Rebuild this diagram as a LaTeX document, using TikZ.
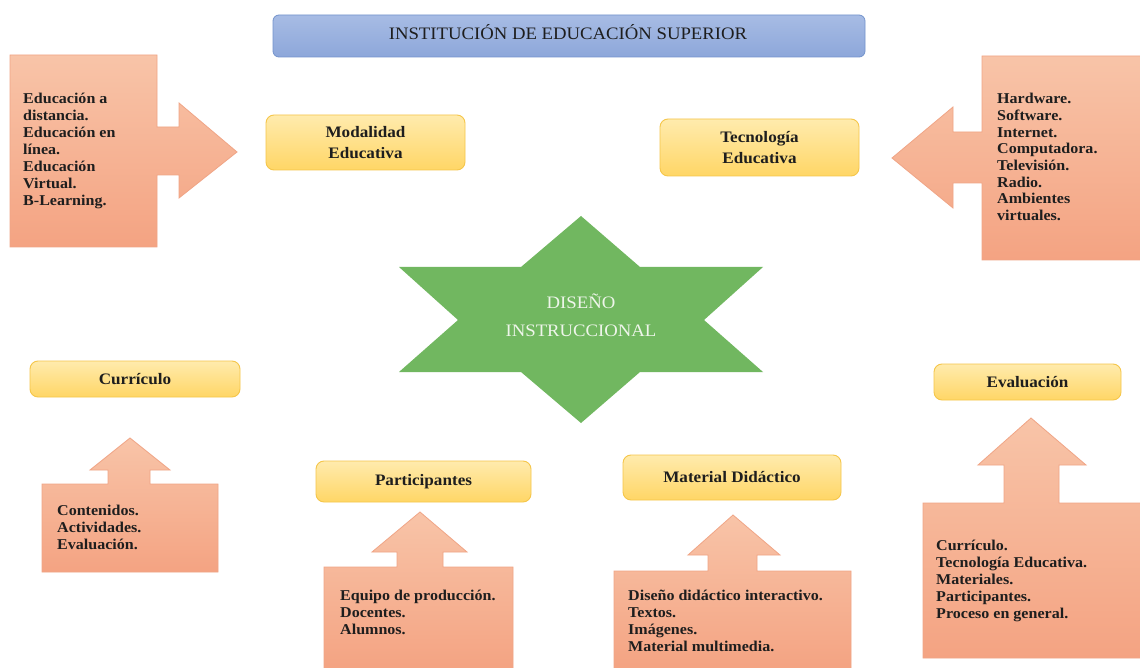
\documentclass[tikz,border=0pt]{standalone}
\usepackage{fontspec}
\setmainfont{Liberation Serif}[FakeStretch=1.07]
\definecolor{calloutTop}{HTML}{F8C4A8}
\definecolor{calloutBot}{HTML}{F4A382}
\definecolor{calloutLine}{HTML}{F0A586}
\definecolor{labTop}{HTML}{FFEBAD}
\definecolor{labBot}{HTML}{FFD666}
\definecolor{labLine}{HTML}{F5C64A}
\definecolor{titTop}{HTML}{A7BCE4}
\definecolor{titBot}{HTML}{8DA7DA}
\definecolor{titLine}{HTML}{7393CC}
\definecolor{starGreen}{HTML}{71B760}
\definecolor{starText}{HTML}{EEF5EA}
\definecolor{ink}{HTML}{1E1E1E}
\tikzset{
  callout/.style={top color=calloutTop, bottom color=calloutBot, draw=calloutLine, line width=0.8pt},
  labelbox/.style={rectangle, rounded corners=8pt, top color=labTop, bottom color=labBot, draw=labLine, line width=0.9pt, font=\bfseries\fontsize{16}{21}\selectfont, text=ink, align=center, inner sep=0pt},
  bodytext/.style={anchor=north west, align=left, inner sep=0pt, font=\bfseries\fontsize{15}{17}\selectfont, text=ink},
}
\begin{document}
\begin{tikzpicture}[x=1pt,y=-1pt]
\useasboundingbox (0,0) rectangle (1140,668);
\fill[white] (0,0) rectangle (1140,668);

% title
\node[rectangle, rounded corners=6pt, top color=titTop, bottom color=titBot, draw=titLine, line width=0.8pt,
      minimum width=592pt, minimum height=42pt] (title) at (569,36) {};
\node[font=\fontsize{17.5}{20}\selectfont, text=ink, inner sep=0pt] (titletext) at (568,32) {INSTITUCIÓN DE EDUCACIÓN SUPERIOR};

% left callout (arrow right)
\shade[callout] (10,55) -- (157,55) -- (157,127) -- (179,127) -- (179,103) -- (237,152)
   -- (179,198) -- (179,175) -- (157,175) -- (157,247) -- (10,247) -- cycle;
\node[bodytext] (modtxt) at (23,93) {Educación a\\distancia.\\Educación en\\línea.\\Educación\\Virtual.\\B-Learning.};

% right callout (arrow left)
\shade[callout] (1141,56) -- (982,56) -- (982,132) -- (953,132) -- (953,107) -- (892,158)
   -- (953,208) -- (953,183) -- (982,183) -- (982,260) -- (1141,260) -- cycle;
\node[bodytext, font=\bfseries\fontsize{15}{16.7}\selectfont] (tectxt) at (997,93) {Hardware.\\Software.\\Internet.\\Computadora.\\Televisión.\\Radio.\\Ambientes\\virtuales.};

% labels
\node[labelbox, minimum width=199pt, minimum height=55pt] (mod) at (365.5,142.5) {Modalidad\\Educativa};
\node[labelbox, minimum width=199pt, minimum height=57pt] (tec) at (759.5,147.5) {Tecnología\\Educativa};
\node[labelbox, minimum width=210pt, minimum height=36pt] (cur) at (135,379) {Currículo};
\node[labelbox, minimum width=215pt, minimum height=41pt] (par) at (423.5,481.5) {Participantes};
\node[labelbox, minimum width=218pt, minimum height=45pt] (mat) at (732,477.5) {Material Didáctico};
\node[labelbox, minimum width=187pt, minimum height=36pt] (eva) at (1027.5,382) {Evaluación};

% star
\fill[starGreen] (581,216) -- (640,267) -- (763,267) -- (704,320) -- (763,372) -- (640,372)
   -- (581,423) -- (521,372) -- (399,372) -- (458,320) -- (399,267) -- (521,267) -- cycle;
\node[font=\fontsize{17.5}{28}\selectfont, text=starText, align=center, inner sep=0pt] (star) at (581,315) {DISEÑO\\INSTRUCCIONAL};

% curriculo callout
\shade[callout] (42,484) -- (108,484) -- (108,470) -- (90,470) -- (130,438) -- (170,470)
   -- (150,470) -- (150,484) -- (218,484) -- (218,572) -- (42,572) -- cycle;
\node[bodytext] (curtxt) at (57,505) {Contenidos.\\Actividades.\\Evaluación.};

% participantes callout
\shade[callout] (324,567) -- (397,567) -- (397,552) -- (372,552) -- (420,512) -- (467,552)
   -- (443,552) -- (443,567) -- (513,567) -- (513,670) -- (324,670) -- cycle;
\node[bodytext] (partxt) at (340,590) {Equipo de producción.\\Docentes.\\Alumnos.};

% material callout
\shade[callout] (614,571) -- (708,571) -- (708,555) -- (688,555) -- (733,515) -- (780,555)
   -- (757,555) -- (757,571) -- (851,571) -- (851,670) -- (614,670) -- cycle;
\node[bodytext] (mattxt) at (628,590) {Diseño didáctico interactivo.\\Textos.\\Imágenes.\\Material multimedia.};

% evaluacion callout
\shade[callout] (923,503) -- (1004,503) -- (1004,465) -- (978,465) -- (1031,418) -- (1086,465)
   -- (1059,465) -- (1059,503) -- (1141,503) -- (1141,658) -- (923,658) -- cycle;
\node[bodytext] (evatxt) at (936,540) {Currículo.\\Tecnología Educativa.\\Materiales.\\Participantes.\\Proceso en general.};
\end{tikzpicture}
\end{document}
